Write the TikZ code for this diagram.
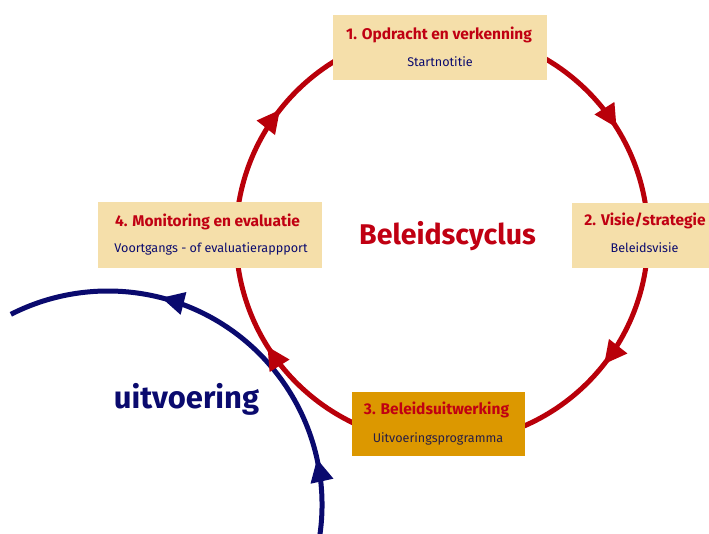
\documentclass[tikz,border=0pt]{standalone}
\usepackage{fontspec}
\setmainfont{Fira Sans}
\usetikzlibrary{arrows.meta,decorations.markings}
\definecolor{cred}{RGB}{192,0,18}
\definecolor{cline}{RGB}{185,0,10}
\definecolor{cnavy}{RGB}{10,10,110}
\definecolor{cdark}{RGB}{40,30,70}
\definecolor{ctan}{RGB}{245,223,170}
\definecolor{cgold}{RGB}{220,152,0}
\begin{document}
\begin{tikzpicture}[x=1pt,y=1pt,
  >={Triangle[length=23pt,width=22pt]},
  tbox/.style={fill=ctan, draw=none, inner sep=0pt},
  gbox/.style={fill=cgold, draw=none, inner sep=0pt},
  ttl/.style={font=\bfseries\fontsize{15.5}{18}\selectfont, text=cred, inner sep=0pt, anchor=base},
  sub/.style={font=\fontsize{12.6}{15}\selectfont, text=cnavy, inner sep=0pt, anchor=base},
  ring/.style={line width=5pt, postaction={decorate}},
]
\useasboundingbox (0,0) rectangle (709,-534);
\clip (0,0) rectangle (709,-534);
% blue arc
\draw[cnavy, ring, decoration={markings,
   mark=at position 0.177 with {\arrow{>}},
   mark=at position 0.674 with {\arrow{>}}}]
  (108,-505) ++(-10:214) arc[start angle=-10, end angle=117, radius=214];
% red circle
\draw[cline, ring, decoration={markings,
   mark=at position 0.161 with {\arrow{>}},
   mark=at position 0.356 with {\arrow{>}},
   mark=at position 0.661 with {\arrow{>}},
   mark=at position 0.856 with {\arrow{>}}}]
  (442,-237) ++(90:206) arc[start angle=90, end angle=-270, radius=206];
% boxes
\node[tbox, minimum width=214, minimum height=65] (b1) at (439.5,-47.5) {};
\node[tbox, minimum width=142, minimum height=65] (b2) at (643,-235.5) {};
\node[tbox, minimum width=224, minimum height=66] (b4) at (210,-235) {};
\node[gbox, minimum width=173, minimum height=64] (b3) at (438.5,-424) {};
% texts
\node[ttl] (b1t) at (439,-40) {1. Opdracht en verkenning};
\node[sub] (b1s) at (440,-66.5) {Startnotitie};
\node[ttl] (b2t) at (645,-226) {2. Visie/strategie};
\node[sub] (b2s) at (644.5,-253) {Beleidsvisie};
\node[ttl] (b4t) at (207.5,-226.5) {4. Monitoring en evaluatie};
\node[sub] (b4s) at (211,-253) {Voortgangs - of evaluatierappport};
\node[ttl] (b3t) at (436.5,-414) {3. Beleidsuitwerking};
\node[sub, text=cdark] (b3s) at (438,-442) {Uitvoeringsprogramma};
\node[font=\bfseries\fontsize{28.5}{32}\selectfont, text=cred, inner sep=0pt, anchor=base] (cyc) at (447.5,-245) {Beleidscyclus};
\node[font=\bfseries\fontsize{31}{34}\selectfont, text=cnavy, inner sep=0pt, anchor=base] (uit) at (186.5,-408) {uitvoering};
\end{tikzpicture}
\end{document}
